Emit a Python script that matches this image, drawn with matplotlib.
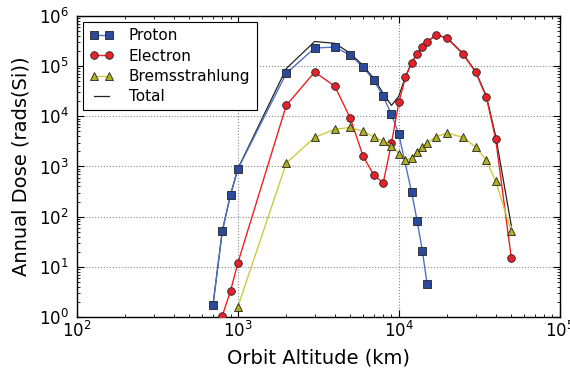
import matplotlib
matplotlib.use("Agg")
import matplotlib.pyplot as plt

proton_x = [700, 800, 900, 1000, 2000, 3000, 4000, 5000, 6000, 7000, 8000, 9000, 10000, 12000, 13000, 14000, 15000]
proton_y = [1.7, 51, 270, 890, 72000, 230000, 240000, 165000, 96000, 52000, 25000, 11000, 4400, 310, 82, 21, 4.5]

electron_x = [800, 900, 1000, 2000, 3000, 4000, 5000, 6000, 7000, 8000, 9000, 10000, 11000, 12000, 13000, 14000, 15000, 17000, 20000, 25000, 30000, 35000, 40000, 50000]
electron_y = [1.05, 3.3, 12, 16600, 76000, 40000, 9100, 1600, 670, 470, 2900, 19000, 60000, 115000, 175000, 240000, 300000, 420000, 360000, 175000, 76000, 24000, 3500, 15]

brems_x = [1000, 2000, 3000, 4000, 5000, 6000, 7000, 8000, 9000, 10000, 11000, 12000, 13000, 14000, 15000, 17000, 20000, 25000, 30000, 35000, 40000, 50000]
brems_y = [1.6, 1170, 3800, 5500, 6000, 5000, 3900, 3200, 2600, 1800, 1340, 1480, 1950, 2450, 2950, 3900, 4650, 3800, 2450, 1340, 510, 51]

total_x = [700, 800, 900, 1000, 2000, 3000, 4000, 5000, 6000, 7000, 8000, 9000, 10000, 11000, 12000, 13000, 14000, 15000, 17000, 20000, 25000, 30000, 35000, 40000, 50000]
total_y = [1.7, 52, 273, 904, 89800, 310000, 285500, 180000, 102600, 56600, 28700, 16500, 25200, 62000, 117000, 177000, 242500, 303000, 424000, 365000, 179000, 78500, 25300, 4000, 66]

plt.rcParams['font.family'] = ['DejaVu Sans']
plt.rcParams['mathtext.fontset'] = 'dejavusans'

fig = plt.figure(figsize=(5.7, 3.72), dpi=100)
ax = fig.add_axes([0.135, 0.148, 0.847, 0.809])

ax.plot(proton_x, proton_y, '-', color='#4f72c4', lw=1.0, marker='s', ms=5.5,
        mfc='#2b4a9c', mec='#222222', mew=0.6, label='Proton', zorder=3)
ax.plot(electron_x, electron_y, '-', color='#f02020', lw=1.0, marker='o', ms=5.5,
        mfc='#e8202a', mec='#222222', mew=0.6, label='Electron', zorder=3)
ax.plot(brems_x, brems_y, '-', color='#cccc40', lw=1.0, marker='^', ms=5.5,
        mfc='#b0b020', mec='#222222', mew=0.6, label='Bremsstrahlung', zorder=3)
ax.plot(total_x, total_y, '-', color='#222222', lw=0.9, label='Total', zorder=2)

ax.set_xscale('log')
ax.set_yscale('log')
ax.set_xlim(1e2, 1e5)
ax.set_ylim(1e0, 1e6)
ax.set_xlabel('Orbit Altitude (km)', fontsize=14, labelpad=5)
ax.set_ylabel('Annual Dose (rads(Si))', fontsize=14, labelpad=6)
ax.tick_params(which='both', direction='in', top=True, right=True, labelsize=12)
ax.tick_params(axis='x', which='both', pad=3)
ax.tick_params(axis='y', which='both', pad=6)
ax.tick_params(which='major', length=5)
ax.tick_params(which='minor', length=2.5)
ax.grid(True, which='major', linestyle=':', color='#888888', lw=0.8)
for s in ax.spines.values():
    s.set_linewidth(1.0)

leg = ax.legend(loc='upper left', fontsize=11, fancybox=False, framealpha=1,
                edgecolor='black', borderaxespad=0.4, handlelength=1.6,
                handletextpad=1.0, numpoints=2, labelspacing=0.35)
leg.get_frame().set_linewidth(0.8)

fig.savefig('out.png', dpi=100)
